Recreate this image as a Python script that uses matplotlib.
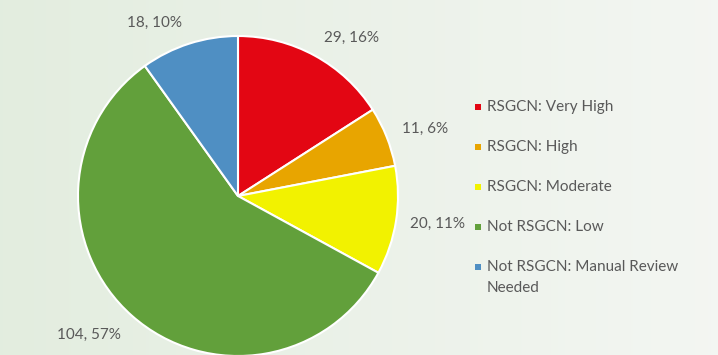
import numpy as np
import matplotlib.pyplot as plt
from matplotlib.patches import Rectangle

categories = ["RSGCN: Very High", "RSGCN: High", "RSGCN: Moderate",
              "Not RSGCN: Low", "Not RSGCN: Manual Review\nNeeded"]
counts = [29, 11, 20, 104, 18]
colors = ["#E30613", "#E8A500", "#F2F200", "#62A03B", "#4F8FC3"]

plt.rcParams['font.family'] = ['Lato', 'DejaVu Sans']
text_color = "#595959"

W, H = 718, 355
fig = plt.figure(figsize=(W / 100, H / 100), dpi=100)

# soft green backdrop, fading lighter to the right
bg = fig.add_axes([0, 0, 1, 1], zorder=-10)
bg.axis('off')
x = np.linspace(0, 1, 400)
left = np.array([0.890, 0.930, 0.875])
right = np.array([0.955, 0.965, 0.950])
grad = left[None, None, :] * (1 - x[None, :, None]) + right[None, None, :] * x[None, :, None]
grad = np.repeat(grad, 10, axis=0)
bg.imshow(grad, aspect='auto', extent=[0, 1, 0, 1])

cx, cy, r = 238, 196, 160
ax = fig.add_axes([(cx - r) / W, (H - cy - r) / H, 2 * r / W, 2 * r / H])
ax.set_aspect('equal')

total = sum(counts)
wedges, _ = ax.pie(counts, colors=colors, startangle=90, counterclock=False,
                   wedgeprops=dict(edgecolor='white', linewidth=1.5))
ax.set_xlim(-1, 1)
ax.set_ylim(-1, 1)

# data labels placed outside each wedge
label_dist = [1.22, 1.24, 1.26, 1.27, 1.20]
angle_shift = [-7, -2, 1, -5.5, 8]
for w, n, d, s in zip(wedges, counts, label_dist, angle_shift):
    mid = np.deg2rad((w.theta1 + w.theta2) / 2 + s)
    ax.text(d * np.cos(mid), d * np.sin(mid), f"{n}, {round(100 * n / total)}%",
            ha='center', va='center', fontsize=11, color=text_color, clip_on=False)

# legend: square swatch beside the first line of each entry
leg_x, leg_y0, row_step, line_step, sq = 478, 107, 40, 21, 6
for i, (name, c) in enumerate(zip(categories, colors)):
    y = leg_y0 + i * row_step
    fig.add_artist(Rectangle(((leg_x - sq / 2) / W, 1 - (y + sq / 2) / H), sq / W, sq / H,
                             transform=fig.transFigure, facecolor=c, edgecolor='none'))
    for j, line in enumerate(name.split("\n")):
        fig.text((leg_x + 9) / W, 1 - (y + j * line_step) / H, line,
                 ha='left', va='center', fontsize=11, color=text_color)

fig.savefig("out.png", dpi=100)
